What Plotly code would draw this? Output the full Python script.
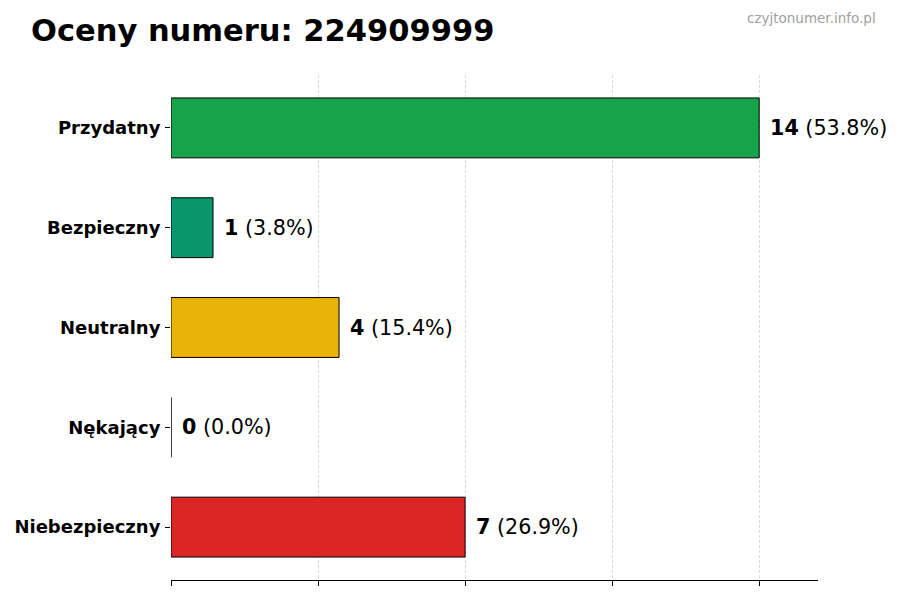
import plotly.graph_objects as go

categories = ['Niebezpieczny', 'Nękający', 'Neutralny', 'Bezpieczny', 'Przydatny']
counts = [7, 0, 4, 1, 14]
colors = ['#dc2626', '#6b7280', '#eab308', '#059669', '#16a34a']
number = '224909999'

total = sum(counts)
labels = ['<b>%d</b> (%.1f%%)' % (c, 100.0 * c / total) for c in counts]

fig = go.Figure()
fig.add_trace(go.Bar(x=counts, y=categories, orientation='h', width=0.6,
                     marker=dict(color=colors, line=dict(color='black', width=1)),
                     hoverinfo='skip'))

for cat, c, lab in zip(categories, counts, labels):
    fig.add_annotation(x=c, y=cat, text=lab, showarrow=False, xanchor='left',
                       xshift=9, font=dict(size=20.7, color='black'))

fig.add_annotation(text='czyjtonumer.info.pl', xref='paper', yref='paper',
                   x=1.0, y=1.0, xanchor='right', yanchor='top', xshift=60, yshift=67,
                   showarrow=False, font=dict(size=13.5, color='#a0a0a0'))

fig.update_xaxes(range=[0, max(counts) * 1.1], dtick=max(counts) / 4, showticklabels=False,
                 showgrid=True, gridcolor='rgba(180,180,180,0.5)', griddash='3px,2px', gridwidth=1,
                 showline=True, linecolor='black', linewidth=1,
                 ticks='outside', ticklen=5, tickcolor='black', zeroline=False,
                 layer='above traces', automargin=False)
fig.update_yaxes(range=[-0.53, 4.53], ticks='outside', ticklen=5, tickcolor='black',
                 showline=False, showgrid=False, ticklabelstandoff=1, automargin=False,
                 tickfont=dict(size=18, color='black', family='DejaVu Sans', weight='bold'))

# page body has an 8px margin, so the figure is a bit smaller than the window
fig.update_layout(width=892, height=592,
                  title=dict(text='<b>Oceny numeru: %s</b>' % number, x=0.0258, xanchor='left',
                             y=0.963, yanchor='middle', font=dict(size=30.5, color='black')),
                  font=dict(family='DejaVu Sans', color='black'),
                  plot_bgcolor='white', paper_bgcolor='white',
                  margin=dict(l=163, r=82, t=67, b=20, autoexpand=False),
                  showlegend=False, bargap=0.4)

fig.write_html("out.html")
